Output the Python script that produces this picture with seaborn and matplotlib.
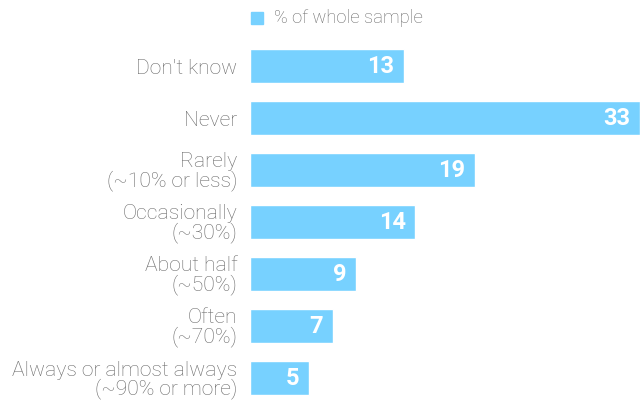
import seaborn as sns
import matplotlib.pyplot as plt
import pandas as pd

categories = ["Don't know", "Never", "Rarely\n(~10% or less)", "Occasionally\n(~30%)",
              "About half\n(~50%)", "Often\n(~70%)", "Always or almost always\n(~90% or more)"]
values = [13, 33, 19, 14, 9, 7, 5]
series_name = "% of whole sample"

bar_color = "#77D1FF"
text_color = "#6a6a6a"

df = pd.DataFrame({"category": categories, "value": values, "series": series_name})

sns.set_theme(style="white")
plt.rcParams['font.family'] = ['Roboto', 'DejaVu Sans']

fig = plt.figure(figsize=(6.4, 4.01), dpi=100)
ax = fig.add_axes([250 / 640, 0, 390 / 640, 361 / 401])

sns.barplot(data=df, y="category", x="value", hue="series", orient="h",
            palette=[bar_color], saturation=1, width=0.64, ax=ax, legend=False)

ax.set_xlim(0, 33)
ax.set_ylim(6.44, -0.5)
ax.set_xlabel("")
ax.set_ylabel("")
ax.set_xticks([])
ax.tick_params(axis="y", length=0, pad=9, labelcolor=text_color)
for lbl in ax.get_yticklabels():
    lbl.set_horizontalalignment("right")
    lbl.set_linespacing(0.9)
    lbl.set_fontsize(15.2)
    lbl.set_fontweight("light")
sns.despine(ax=ax, left=True, bottom=True)

for cont in ax.containers:
    ax.bar_label(cont, labels=[str(v) for v in values], padding=-7, label_type="edge",
                 color="white", fontsize=17, fontweight="bold")
for t in ax.texts:
    t.set_horizontalalignment("right")

# legend
fig.patches.append(plt.Rectangle((251 / 640, 1 - 24 / 401), 12 / 640, 12 / 401,
                                 transform=fig.transFigure, color=bar_color))
fig.text(274 / 640, 1 - 18 / 401, series_name, color=text_color, fontsize=13.3,
         fontweight="light", va="center", ha="left")

fig.savefig("out.png", dpi=100)
